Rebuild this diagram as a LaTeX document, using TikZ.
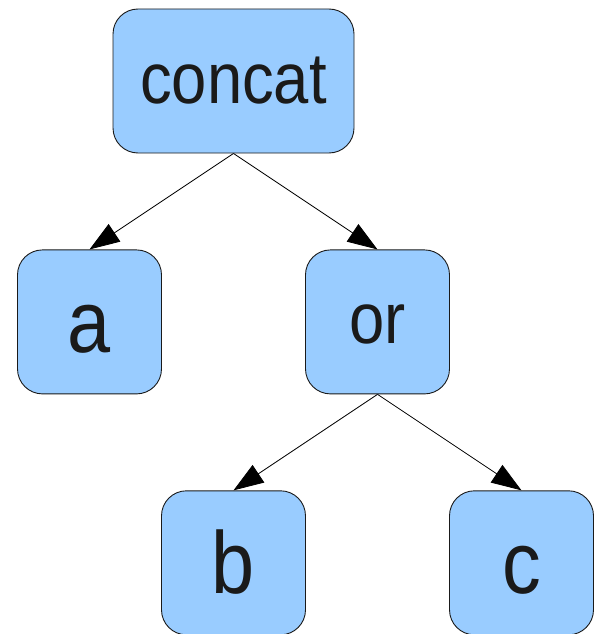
\documentclass[tikz,border=0pt]{standalone}
\usepackage{fontspec}
\newfontfamily\treefont{Liberation Sans}[FakeStretch=0.88]
\usetikzlibrary{
  arrows.meta,
  positioning
}
\definecolor{nodefill}{HTML}{99CCFF}
\definecolor{nodeborder}{HTML}{1A1A1A}
\definecolor{textdark}{HTML}{1A1A1A}
\tikzset{
  treenode/.style={
    draw=nodeborder,
    fill=nodefill,
    text=textdark,
    rounded corners=25pt,
    minimum width=144pt,
    minimum height=144pt,
    inner sep=0pt,
    line width=0.9pt,
  },
  smalltext/.style={
    treenode,
    font=\treefont\fontsize{72}{80}\selectfont,
    text height=44pt,
    text depth=0pt,
  },
  bigtext/.style={
    treenode,
    font=\treefont\fontsize{88}{96}\selectfont,
    text height=62pt,
    text depth=0pt,
  },
  link/.style={
    -{Triangle[length=30pt, width=21pt]},
    line width=0.8pt,
    draw=black,
  },
}

\begin{document}
\begin{tikzpicture}[x=1pt, y=1pt]

\useasboundingbox (0,0) rectangle (599,-634);

% === ROW 1: concat ===

\node[smalltext, minimum width=241pt] at (233.5,-81)
  (concat) {concat};

% === ROW 2: a, or ===

\node[bigtext, below=96pt of concat, xshift=-144pt]
  (leafa) {a};

\node[smalltext, below=96pt of concat, xshift=144pt]
  (orop) {or};

\draw[link] (concat.south) -- (leafa.north);
\draw[link] (concat.south) -- (orop.north);

% === ROW 3: b, c ===

\node[bigtext, below=96pt of orop, xshift=-144pt]
  (leafb) {b};

\node[bigtext, below=96pt of orop, xshift=144pt]
  (leafc) {c};

\draw[link] (orop.south) -- (leafb.north);
\draw[link] (orop.south) -- (leafc.north);

\end{tikzpicture}
\end{document}
